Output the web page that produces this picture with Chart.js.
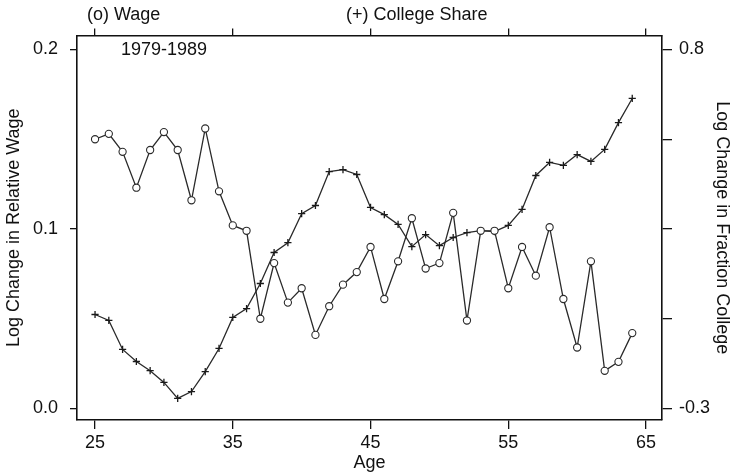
<!DOCTYPE html>
<html>
<head>
<meta charset="utf-8">
<script src="https://cdn.jsdelivr.net/npm/chart.js@4.4.1/dist/chart.umd.min.js"></script>
<style>
  html, body { margin: 0; padding: 0; background: #fff; }
  #wrap { width: 733px; height: 474px; }
</style>
</head>
<body>
<div id="wrap"><canvas id="chart"></canvas></div>
<script>
// ages on the x axis
const ages = [25, 26, 27, 28, 29, 30, 31, 32, 33, 34,
              35, 36, 37, 38, 39, 40, 41, 42, 43, 44,
              45, 46, 47, 48, 49, 50, 51, 52, 53, 54,
              55, 56, 57, 58, 59, 60, 61, 62, 63, 64];

// (o) log change in relative wage, left axis
const wageChange = [0.150, 0.153, 0.143, 0.123, 0.144, 0.154, 0.144, 0.116, 0.156, 0.121,
                    0.102, 0.099, 0.050, 0.081, 0.059, 0.067, 0.041, 0.057, 0.069, 0.076,
                    0.090, 0.061, 0.082, 0.106, 0.078, 0.081, 0.109, 0.049, 0.099, 0.099,
                    0.067, 0.090, 0.074, 0.101, 0.061, 0.034, 0.082, 0.021, 0.026, 0.042];

// (+) log change in fraction college, right axis
const collegeChange = [-0.012, -0.030, -0.119, -0.156, -0.184, -0.220, -0.269, -0.248, -0.187, -0.116,
                       -0.021, 0.006, 0.083, 0.178, 0.208, 0.297, 0.322, 0.426, 0.432, 0.417,
                       0.316, 0.294, 0.264, 0.196, 0.233, 0.199, 0.224, 0.239, 0.245, 0.242,
                       0.261, 0.310, 0.414, 0.454, 0.445, 0.478, 0.457, 0.494, 0.576, 0.650];

const ageTicks = [25, 35, 45, 55, 65];
const wageTicks = [0, 0.1, 0.2];
const collegeTicks = [-0.3, -0.025, 0.25, 0.525, 0.8];

const ink = '#111';
const fontFamily = '"Liberation Sans", Arial, Helvetica, sans-serif';
const textSize = 18;

const fixTicks = list => scale => { scale.ticks = list.map(v => ({ value: v })); };

const axisLines = len => ({
    drawOnChartArea: false,
    drawTicks: true,
    tickLength: len,
    color: ink,
    lineWidth: 1.3
});
const axisBorder = { display: true, color: ink, width: 1.6 };

// header labels and the period note inside the plot
const extraText = {
    id: 'extraText',
    afterDraw(chart) {
        const ctx = chart.ctx;
        ctx.save();
        ctx.fillStyle = ink;
        ctx.font = textSize + 'px ' + fontFamily;
        ctx.textBaseline = 'middle';
        ctx.textAlign = 'left';
        ctx.fillText('(o) Wage', 87, 15);
        ctx.fillText('(+) College Share', 346, 15);
        ctx.fillText('1979-1989', 121, 50);
        ctx.restore();
    }
};

new Chart(document.getElementById('chart'), {
    type: 'line',
    data: {
        datasets: [
            {
                label: 'Wage',
                data: ages.map((a, i) => ({ x: a, y: wageChange[i] })),
                yAxisID: 'y',
                borderColor: '#2a2a2a',
                borderWidth: 1.3,
                pointStyle: 'circle',
                pointRadius: 3.6,
                pointBorderWidth: 1.1,
                pointBorderColor: '#2a2a2a',
                pointBackgroundColor: '#fff',
                tension: 0
            },
            {
                label: 'College Share',
                data: ages.map((a, i) => ({ x: a, y: collegeChange[i] })),
                yAxisID: 'y2',
                borderColor: '#2a2a2a',
                borderWidth: 1.3,
                pointStyle: 'cross',
                pointRadius: 3.6,
                pointBorderWidth: 1.3,
                pointBorderColor: '#1a1a1a',
                tension: 0
            }
        ]
    },
    options: {
        responsive: true,
        maintainAspectRatio: false,
        animation: false,
        layout: { padding: 0 },
        plugins: { legend: { display: false }, tooltip: { enabled: false } },
        scales: {
            x: {
                type: 'linear',
                position: 'bottom',
                min: 23.69,
                max: 66.16,
                afterBuildTicks: fixTicks(ageTicks),
                afterFit: s => { s.height = 54; },
                grid: axisLines(9),
                border: axisBorder,
                ticks: { color: ink, padding: 3, font: { family: fontFamily, size: textSize }, maxRotation: 0 },
                title: { display: true, text: 'Age', color: ink, padding: { top: 0, bottom: 0 }, font: { family: fontFamily, size: textSize } }
            },
            x2: {
                type: 'linear',
                position: 'top',
                min: 23.69,
                max: 66.16,
                afterBuildTicks: fixTicks(ageTicks),
                afterFit: s => { s.height = 35.5; },
                grid: axisLines(7),
                border: axisBorder,
                ticks: { callback: () => '', padding: 0 }
            },
            y: {
                type: 'linear',
                position: 'left',
                min: -0.0064,
                max: 0.2078,
                afterBuildTicks: fixTicks(wageTicks),
                afterFit: s => { s.width = 77; },
                grid: axisLines(7),
                border: axisBorder,
                ticks: { color: ink, padding: 12, font: { family: fontFamily, size: textSize }, callback: v => v.toFixed(1) },
                title: { display: true, text: 'Log Change in Relative Wage', color: ink, padding: { top: 3, bottom: 0 }, font: { family: fontFamily, size: textSize } }
            },
            y2: {
                type: 'linear',
                position: 'right',
                min: -0.3352,
                max: 0.8429,
                afterBuildTicks: fixTicks(collegeTicks),
                afterFit: s => { s.width = 71; },
                grid: axisLines(10),
                border: axisBorder,
                ticks: {
                    color: ink, padding: 7, font: { family: fontFamily, size: textSize },
                    callback: v => (v === 0.8 || v === -0.3) ? v.toFixed(1) : ''
                },
                title: { display: true, text: 'Log Change in Fraction College', color: ink, padding: { top: 0, bottom: 0 }, font: { family: fontFamily, size: textSize } }
            }
        }
    },
    plugins: [extraText]
});
</script>
</body>
</html>
